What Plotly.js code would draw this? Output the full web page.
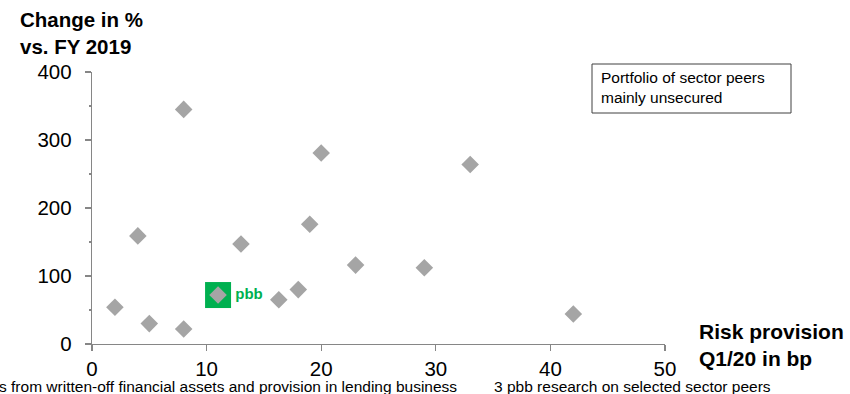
<!DOCTYPE html>
<html><head><meta charset="utf-8">
<script src="https://cdn.plot.ly/plotly-3.0.1.min.js"></script>
<style>body{margin:0;background:#fff}</style>
</head><body><div id="chart" style="width:850px;height:394px"></div>
<script>
// Data
const peerX = [8, 20, 33, 4, 13, 19, 23, 29, 2, 5, 8, 16.3, 18, 42];
const peerY = [345, 281, 264, 159, 147, 176, 116, 112, 54, 30, 22, 65, 80, 44];
const pbbX = [11];
const pbbY = [72];
const pbbLabel = ['pbb'];
const xTicks = [0, 10, 20, 30, 40, 50];
const yTicks = [0, 100, 200, 300, 400];
const titleText = 'Change in %<br>vs. FY 2019';
const xLabelText = 'Risk provision<br>Q1/20 in bp';
const boxText = 'Portfolio of sector peers<br>mainly unsecured';
const foot1 = 's from written-off financial assets and provision in lending business';
const foot2 = '3 pbb research on selected sector peers';

const FONT = 'Liberation Sans, Arial, sans-serif';
const GREY = '#a5a5a5';
const GREEN = '#00b050';
const AX = '#868686';

// paper-coordinate helpers from pixel positions
const L = 92, R = 665, T = 72, B = 344;
const px = x => (x - L) / (R - L);
const py = y => (B - y) / (B - T);

const traces = [
  {
    type: 'scatter', mode: 'markers+text', x: pbbX, y: pbbY, text: pbbLabel,
    textposition: 'middle right', cliponaxis: false, hoverinfo: 'skip',
    marker: {symbol: 'square', size: 26, color: GREEN},
    textfont: {family: FONT, size: 15, color: GREEN, weight: 'bold'}
  },
  {
    type: 'scatter', mode: 'markers', x: peerX, y: peerY, cliponaxis: false,
    marker: {symbol: 'diamond', size: 13.5, color: GREY}
  },
  {
    type: 'scatter', mode: 'markers', x: pbbX, y: pbbY, cliponaxis: false,
    marker: {symbol: 'diamond', size: 13.5, color: GREY}
  }
];

const layout = {
  width: 850, height: 394,
  margin: {l: L, r: 850 - R, t: T, b: 394 - B, pad: 0},
  paper_bgcolor: '#fff', plot_bgcolor: '#fff',
  showlegend: false,
  font: {family: FONT, color: '#000'},
  xaxis: {
    range: [0, 50], tickvals: xTicks, ticktext: xTicks.map(String),
    showline: true, linecolor: AX, linewidth: 1.3, ticks: 'outside', ticklen: 6,
    tickcolor: AX, tickwidth: 1.3, showgrid: false, zeroline: false,
    tickfont: {family: FONT, size: 20.5, color: '#000'}
  },
  yaxis: {
    range: [0, 400], tickvals: yTicks, ticktext: yTicks.map(String),
    showline: true, linecolor: AX, linewidth: 1.3, ticks: 'outside', ticklen: 6,
    tickcolor: AX, tickwidth: 1.3, showgrid: false, zeroline: false,
    ticklabelstandoff: 9,
    minor: {dtick: 50, ticks: 'outside', ticklen: 2, tickcolor: AX, showgrid: false},
    tickfont: {family: FONT, size: 20.5, color: '#000'}
  },
  shapes: [
    {type: 'rect', xref: 'paper', yref: 'paper',
     x0: px(592), x1: px(791), y0: py(113), y1: py(64),
     line: {color: '#404040', width: 1}, fillcolor: 'rgba(0,0,0,0)'}
  ],
  annotations: [
    {xref: 'paper', yref: 'paper', x: px(18), y: py(6), xanchor: 'left', yanchor: 'top',
     align: 'left', showarrow: false, text: '<b>' + titleText + '</b>',
     font: {family: FONT, size: 20.5, color: '#000'}},
    {xref: 'paper', yref: 'paper', x: px(599), y: py(87), xanchor: 'left', yanchor: 'middle',
     align: 'left', showarrow: false, text: boxText,
     font: {family: FONT, size: 15.5, color: '#000'}},
    {xref: 'paper', yref: 'paper', x: px(697), y: py(318), xanchor: 'left', yanchor: 'top',
     align: 'left', showarrow: false, text: '<b>' + xLabelText + '</b>',
     font: {family: FONT, size: 21, color: '#000'}},
    {xref: 'paper', yref: 'paper', x: px(-3), y: py(386), xanchor: 'left', yanchor: 'middle',
     align: 'left', showarrow: false, text: foot1,
     font: {family: FONT, size: 15.5, color: '#000'}},
    {xref: 'paper', yref: 'paper', x: px(492), y: py(386), xanchor: 'left', yanchor: 'middle',
     align: 'left', showarrow: false, text: foot2,
     font: {family: FONT, size: 15.5, color: '#000'}}
  ]
};

Plotly.newPlot('chart', traces, layout, {displayModeBar: false, staticPlot: true});
</script>
</body></html>
